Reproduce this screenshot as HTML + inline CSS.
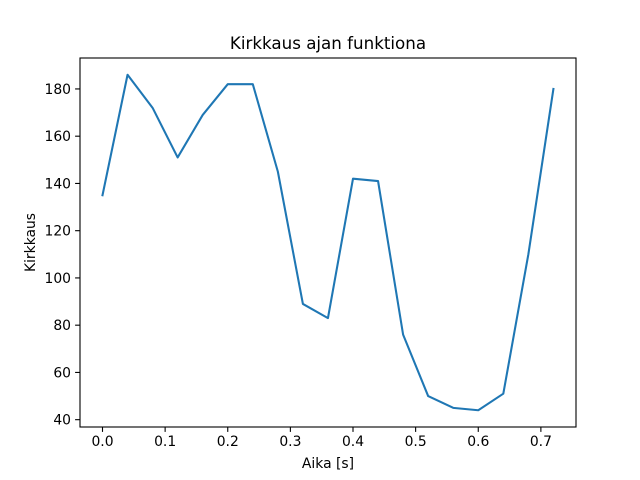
<!DOCTYPE html>
<html><head><meta charset="utf-8"><style>
html,body{margin:0;padding:0;background:#fff;}
svg{display:block;font-family:"DejaVu Sans","Liberation Sans",sans-serif;}
</style></head><body>
<svg width="640" height="480" viewBox="0 0 640 480" xmlns="http://www.w3.org/2000/svg">
<rect width="640" height="480" fill="#fff"/>
<g transform="translate(102.5,427) scale(626.26,-2.3624) translate(0,-36.9)">
<polyline fill="none" stroke="#1f77b4" stroke-width="2.08" vector-effect="non-scaling-stroke" stroke-linejoin="round" stroke-linecap="square"
points="0,135 0.04,186 0.08,172 0.12,151 0.16,169 0.2,182 0.24,182 0.28,145 0.32,89 0.36,83 0.4,142 0.44,141 0.48,76 0.52,50 0.56,45 0.6,44 0.64,51 0.68,110 0.72,180"/>
</g>
<rect x="80" y="58" width="496" height="369" fill="none" stroke="#000" stroke-width="1.1"/>
<g stroke="#000" stroke-width="1.1">
<line x1="102.5" y1="427" x2="102.5" y2="431.9"/>
<line x1="165.13" y1="427" x2="165.13" y2="431.9"/>
<line x1="227.75" y1="427" x2="227.75" y2="431.9"/>
<line x1="290.38" y1="427" x2="290.38" y2="431.9"/>
<line x1="353" y1="427" x2="353" y2="431.9"/>
<line x1="415.63" y1="427" x2="415.63" y2="431.9"/>
<line x1="478.26" y1="427" x2="478.26" y2="431.9"/>
<line x1="540.88" y1="427" x2="540.88" y2="431.9"/>
<line x1="75.1" y1="419.68" x2="80" y2="419.68"/>
<line x1="75.1" y1="372.43" x2="80" y2="372.43"/>
<line x1="75.1" y1="325.18" x2="80" y2="325.18"/>
<line x1="75.1" y1="277.93" x2="80" y2="277.93"/>
<line x1="75.1" y1="230.69" x2="80" y2="230.69"/>
<line x1="75.1" y1="183.44" x2="80" y2="183.44"/>
<line x1="75.1" y1="136.19" x2="80" y2="136.19"/>
<line x1="75.1" y1="88.94" x2="80" y2="88.94"/>
</g>
<g font-size="13.9" fill="#000" text-anchor="middle">
<text x="102.5" y="446">0.0</text>
<text x="165.13" y="446">0.1</text>
<text x="227.75" y="446">0.2</text>
<text x="290.38" y="446">0.3</text>
<text x="353" y="446">0.4</text>
<text x="415.63" y="446">0.5</text>
<text x="478.26" y="446">0.6</text>
<text x="540.88" y="446">0.7</text>
</g>
<g font-size="13.9" fill="#000" text-anchor="end">
<text x="71" y="424.7">40</text>
<text x="71" y="377.4">60</text>
<text x="71" y="330.2">80</text>
<text x="71" y="282.9">100</text>
<text x="71" y="235.7">120</text>
<text x="71" y="188.4">140</text>
<text x="71" y="141.2">160</text>
<text x="71" y="93.9">180</text>
</g>
<text x="328" y="468" font-size="13.9" text-anchor="middle">Aika [s]</text>
<text transform="translate(35,242.5) rotate(-90)" font-size="13.9" text-anchor="middle">Kirkkaus</text>
<text x="328" y="49" font-size="16.7" text-anchor="middle">Kirkkaus ajan funktiona</text>
</svg>
</body></html>
